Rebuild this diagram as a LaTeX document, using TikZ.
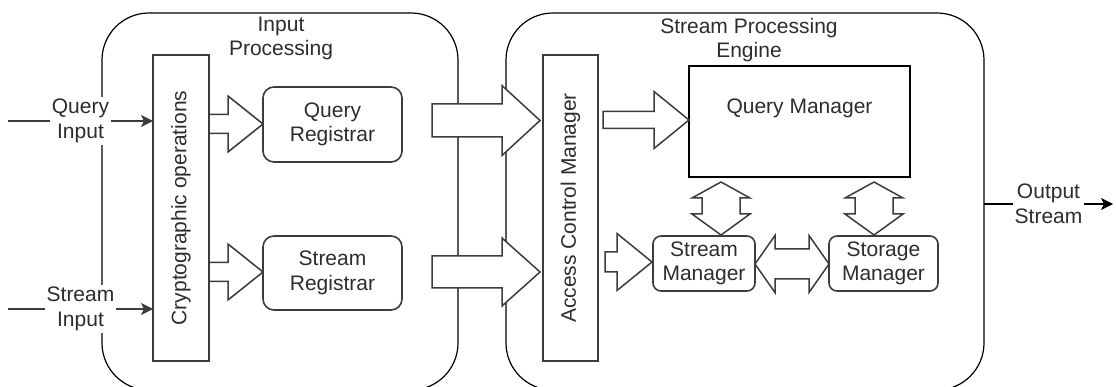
\documentclass[tikz,border=0pt]{standalone}
\usepackage{fontspec}
\setmainfont{Liberation Sans}
\usetikzlibrary{arrows.meta}
\definecolor{edgegray}{RGB}{60,60,60}
\definecolor{textgray}{RGB}{45,45,45}
\newcommand\fs{\fontsize{21}{24.5}\selectfont}
\tikzset{
  base/.style={draw=edgegray, line width=1.6pt, fill=white, inner sep=0pt, outer sep=0pt, align=center, font=\fs, text=textgray},
  cont/.style={base, draw=black, line width=1.2pt, rounded corners=47pt, fill=none},
  bar/.style={base},
  rbox/.style={base, rounded corners=11pt},
  sbox/.style={base, rounded corners=8pt},
  txt/.style={inner sep=0pt, align=center, font=\fs, text=textgray},
  lbl/.style={fill=white, inner sep=2pt, align=center, font=\fs, text=textgray},
  flow/.style={draw=edgegray, line width=1.5pt, -{Stealth[length=12pt,width=12pt,inset=3pt]}},
  blk/.style={draw=edgegray, line width=1.5pt, fill=white, line join=miter}
}
% right-pointing block arrow: x0, xhead, xtip, ycenter, shaft half, head half
\newcommand\rarrow[6]{\draw[blk] ({#1},{#4-#5}) -- ({#2},{#4-#5}) -- ({#2},{#4-#6}) -- ({#3},{#4}) -- ({#2},{#4+#6}) -- ({#2},{#4+#5}) -- ({#1},{#4+#5}) -- cycle;}
% horizontal double block arrow: xl, xl2, xr2, xr, yc, shaft half, head half
\newcommand\hdarrow[7]{\draw[blk] ({#1},{#5}) -- ({#2},{#5-#7}) -- ({#2},{#5-#6}) -- ({#3},{#5-#6}) -- ({#3},{#5-#7}) -- ({#4},{#5}) -- ({#3},{#5+#7}) -- ({#3},{#5+#6}) -- ({#2},{#5+#6}) -- ({#2},{#5+#7}) -- cycle;}
% vertical double block arrow: yt, yt2, yb2, yb, xc, shaft half, head half
\newcommand\vdarrow[7]{\draw[blk] ({#5},{#1}) -- ({#5+#7},{#2}) -- ({#5+#6},{#2}) -- ({#5+#6},{#3}) -- ({#5+#7},{#3}) -- ({#5},{#4}) -- ({#5-#7},{#3}) -- ({#5-#6},{#3}) -- ({#5-#6},{#2}) -- ({#5-#7},{#2}) -- cycle;}
\begin{document}
\begin{tikzpicture}[x=1pt,y=-1pt]
\path[use as bounding box, fill=white] (0,0) rectangle (1116,387);

% containers
\node[cont, minimum width=356pt, minimum height=377pt] (ip) at (280,201.5) {};
\node[cont, minimum width=478pt, minimum height=377pt] (spe) at (745,201.5) {};
\node[txt] (iptitle) at (281,38.5) {Input\\Processing};
\node[txt] (spetitle) at (749,40) {Stream Processing\\Engine};

% inner boxes
\node[bar, minimum width=56pt, minimum height=306pt] (crypto) at (181,208) {};
\node[txt, rotate=90] (cryptotext) at (crypto.center) {Cryptographic operations};
\node[bar, minimum width=55pt, minimum height=306pt] (acm) at (570.5,208) {};
\node[txt, rotate=90] (acmtext) at (acm.center) {Access Control Manager};

\node[rbox, minimum width=139pt, minimum height=75pt] (qr) at (332.5,124.5) {Query\\Registrar};
\node[rbox, minimum width=139pt, minimum height=74pt] (sr) at (332.5,273) {Stream\\Registrar};

\node[base, draw=black, minimum width=221pt, minimum height=111pt] (qm) at (799.5,121.5) {};
\node[txt] (qmtext) at ([yshift=-42pt]qm.north) {Query Manager};
\node[sbox, minimum width=102pt, minimum height=55pt] (sm) at (704,263.5) {Stream\\Manager};
\node[sbox, minimum width=109pt, minimum height=55pt] (stm) at (883.5,263.5) {Storage\\Manager};

% inputs
\coordinate (qin) at (8,121);
\coordinate (sin) at (8,309);
\draw[flow] (qin) -- node[lbl] {Query\\Input} (qin -| crypto.west);
\draw[flow] (sin) -- node[lbl] {Stream\\Input} (sin -| crypto.west);

% output
\coordinate (oend) at (1113,204);
\draw[flow, draw=black] (spe.east |- oend) -- node[lbl] {Output\\Stream} (oend);

% block arrows
\rarrow{209}{228}{263}{124}{9.5}{28}
\rarrow{209}{228}{263}{272}{9.5}{28}
\rarrow{432}{502}{540}{120.5}{16.5}{35}
\rarrow{432}{502}{540}{272}{16}{34}
\rarrow{603}{654}{689}{120}{8.5}{28.5}
\rarrow{605}{617}{652}{262}{10}{28.5}
\hdarrow{755}{775}{809}{829}{264}{15}{28.5}
\vdarrow{182}{198}{214}{235}{721}{19}{29}
\vdarrow{182}{198}{214}{235}{874}{19}{29}
\end{tikzpicture}
\end{document}
